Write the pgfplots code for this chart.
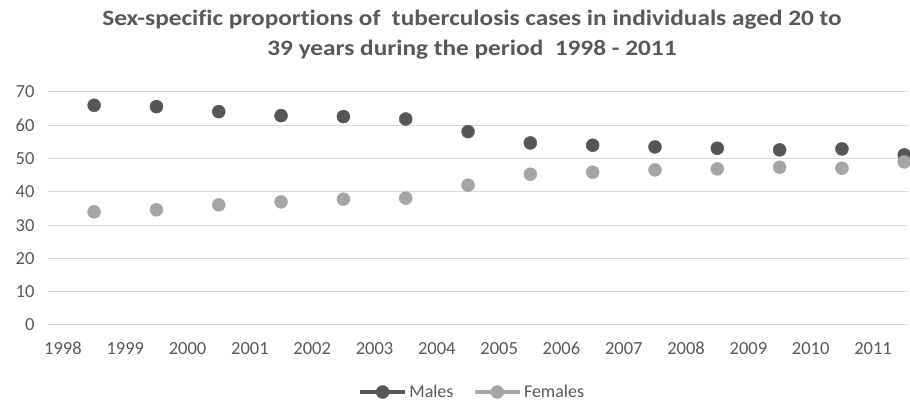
\documentclass[border=0pt]{standalone}
\usepackage{pgfplots}
\pgfplotsset{compat=1.18}
\usepackage{fontspec}
\setmainfont{Carlito}[Ligatures=NoCommon]
\newfontfamily\titlefont{Carlito}[Ligatures=NoCommon, FakeStretch=1.15]
\definecolor{maleC}{HTML}{565656}
\definecolor{femaleC}{HTML}{A5A5A5}
\definecolor{txtC}{HTML}{595959}
\definecolor{gridC}{HTML}{D9D9D9}
\begin{document}
\begin{tikzpicture}[x=1pt,y=1pt]
\begin{axis}[
  at={(48pt,76pt)}, anchor=south west,
  scale only axis, width=860pt, height=233pt,
  xmin=1997.76, xmax=2011.56, ymin=0, ymax=70,
  clip=false,
  axis line style={draw=none},
  major tick length=0pt,
  xtick={1998,1999,...,2011},
  ytick={0,10,...,70},
  ymajorgrids, grid style={gridC, line width=1pt},
  /pgf/number format/assume math mode=true,
  /pgf/number format/1000 sep={},
  tick label style={font=\fontsize{18.5}{20}\selectfont, text=txtC},
  yticklabel style={xshift=-10pt},
  xticklabel style={anchor=base, yshift=-30pt},
  title={Sex-specific proportions of \ tuberculosis cases in individuals aged 20 to\\39 years during the period \ 1998 - 2011},
  title style={at={(0.493,1.222)}, anchor=center, align=center, font=\titlefont\fontsize{22}{30}\selectfont\bfseries, text=txtC},
  legend columns=2,
  legend style={at={(0.493,-0.2876)}, anchor=center, draw=none, fill=none, font=\fontsize{18}{20}\selectfont, text=txtC,
     /tikz/every even column/.append style={column sep=17pt}, nodes={inner sep=2pt}},
]
\addplot[only marks, mark=*, mark size=6.5pt, mark options={fill=maleC, draw=maleC}, color=maleC,
  legend image code/.code={\draw[line width=4.5pt, maleC] (-2pt,0pt) -- (43pt,0pt); \fill[maleC] (20.5pt,0pt) circle (6.5pt);}]
  coordinates {
  (1998.5,66.0) (1999.5,65.6) (2000.5,64.1) (2001.5,62.9) (2002.5,62.6) (2003.5,61.9) (2004.5,58.1)
  (2005.5,54.7) (2006.5,54.0) (2007.5,53.5) (2008.5,53.1) (2009.5,52.6) (2010.5,52.9) (2011.5,51.1)
  };
\addlegendentry{Males}
\addplot[only marks, mark=*, mark size=6.5pt, mark options={fill=femaleC, draw=femaleC}, color=femaleC,
  legend image code/.code={\draw[line width=4.5pt, femaleC] (-2pt,0pt) -- (43pt,0pt); \fill[femaleC] (20.5pt,0pt) circle (6.5pt);}]
  coordinates {
  (1998.5,34.0) (1999.5,34.6) (2000.5,36.1) (2001.5,37.0) (2002.5,37.8) (2003.5,38.1) (2004.5,42.0)
  (2005.5,45.3) (2006.5,45.9) (2007.5,46.6) (2008.5,46.9) (2009.5,47.4) (2010.5,47.1) (2011.5,49.0)
  };
\addlegendentry{Females}
\end{axis}
\pgfresetboundingbox
\useasboundingbox (0,0) rectangle (910,401);
\end{tikzpicture}
\end{document}
